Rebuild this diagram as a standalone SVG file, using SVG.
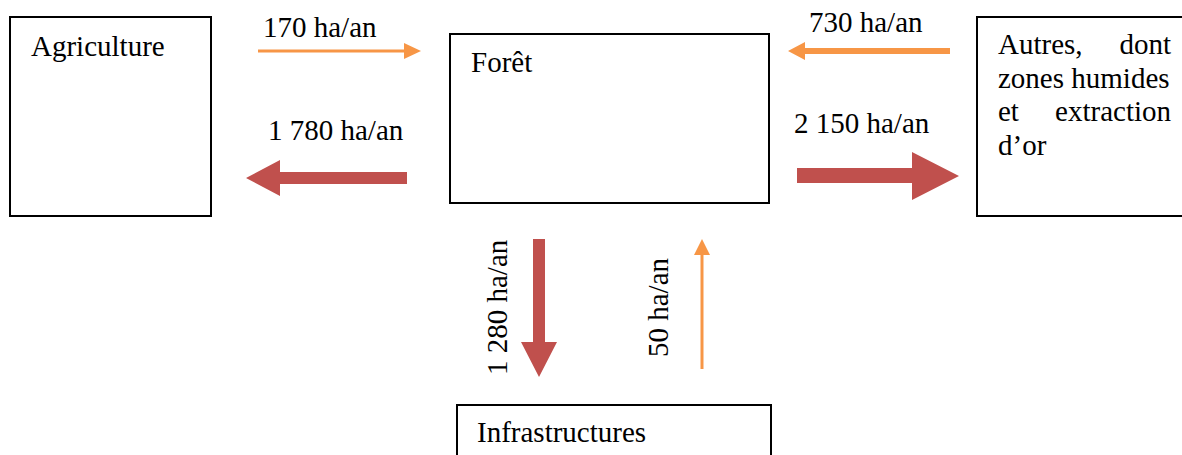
<svg xmlns="http://www.w3.org/2000/svg" width="1182" height="455" viewBox="0 0 1182 455">
  <style>
    .box { fill: #ffffff; stroke: #000000; stroke-width: 2; }
    .lbl { font-family: "Liberation Serif", "Times New Roman", serif; font-size: 29px; fill: #000000; }
    .gain { fill: #F79646; }
    .loss { fill: #C0504D; }
    .thin { stroke: #F79646; fill: none; }
  </style>
  <rect width="1182" height="455" fill="#ffffff"/>

  <g id="agriculture">
    <rect class="box" x="10" y="17" width="201" height="199"/>
    <text class="lbl" x="31" y="56">Agriculture</text>
  </g>

  <g id="foret">
    <rect class="box" x="450" y="34" width="319" height="169"/>
    <text class="lbl" x="471" y="72">Forêt</text>
  </g>

  <g id="autres">
    <rect class="box" x="977" y="17" width="215" height="199"/>
    <text class="lbl" x="998" y="54">Autres,</text>
    <text class="lbl" x="1171" y="54" text-anchor="end">dont</text>
    <text class="lbl" x="998" y="88">zones humides</text>
    <text class="lbl" x="998" y="121">et</text>
    <text class="lbl" x="1171" y="121" text-anchor="end">extraction</text>
    <text class="lbl" x="998" y="155">d’or</text>
  </g>

  <g id="infrastructures">
    <rect class="box" x="457" y="405" width="314" height="70"/>
    <text class="lbl" x="477" y="442">Infrastructures</text>
  </g>

  <g id="connectors">
    <!-- Agriculture -> Forêt : 170 ha/an -->
    <line class="thin" x1="258" y1="51" x2="406" y2="51" stroke-width="3"/>
    <polygon class="gain" points="404,43 421,51 404,59"/>
    <text class="lbl" x="263" y="37">170 ha/an</text>

    <!-- Forêt -> Agriculture : 1 780 ha/an -->
    <polygon class="loss" points="407,172 280,172 280,160 246,178 280,196 280,184 407,184"/>
    <text class="lbl" x="268" y="140">1 780 ha/an</text>

    <!-- Autres -> Forêt : 730 ha/an -->
    <polygon class="gain" points="950,48 805,48 805,42 788,51 805,60 805,54 950,54"/>
    <text class="lbl" x="809" y="32">730 ha/an</text>

    <!-- Forêt -> Autres : 2 150 ha/an -->
    <polygon class="loss" points="797,168 912,168 912,152 959,176 912,200 912,183 797,183"/>
    <text class="lbl" x="794" y="133">2 150 ha/an</text>

    <!-- Forêt -> Infrastructures : 1 280 ha/an -->
    <polygon class="loss" points="533,239 545,239 545,342 557,342 539,377 521,342 533,342"/>
    <text class="lbl" transform="translate(507,375) rotate(-90)">1 280 ha/an</text>

    <!-- Infrastructures -> Forêt : 50 ha/an -->
    <line class="thin" x1="702" y1="369" x2="702" y2="253" stroke-width="3"/>
    <polygon class="gain" points="694,255 702,239 710,255"/>
    <text class="lbl" transform="translate(668,357) rotate(-90)">50 ha/an</text>
  </g>
</svg>
